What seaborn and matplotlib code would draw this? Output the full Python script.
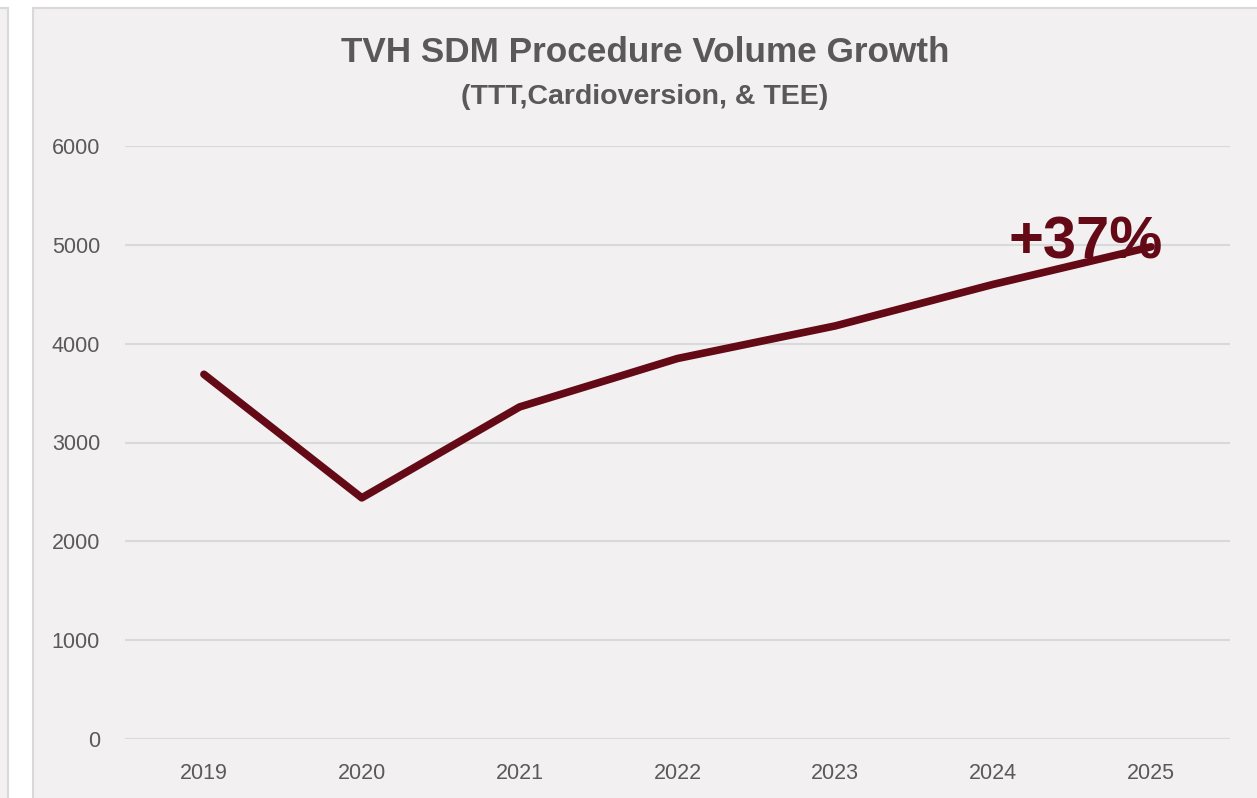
import pandas as pd
import matplotlib.pyplot as plt
import seaborn as sns
from matplotlib.patches import Rectangle

# Data
years = ["2019", "2020", "2021", "2022", "2023", "2024", "2025"]
volumes = [3690, 2440, 3360, 3850, 4180, 4600, 4980]
growth_label = "+37%"

df = pd.DataFrame({"Year": years, "Volume": volumes})

sns.set_theme(style="white")
plt.rcParams["font.family"] = ["Liberation Sans", "DejaVu Sans"]

text_gray = "#595959"
grid_gray = "#D9D9D9"
maroon = "#640A16"
panel_bg = "#F2F0F1"

fig = plt.figure(figsize=(12.57, 7.98), dpi=100)
fig.patch.set_facecolor("white")

# chart panel background + neighbour panel edge
fig.patches.append(Rectangle((33 / 1257, -0.01), 1.0, 1 - 8 / 798 + 0.01,
                             transform=fig.transFigure, facecolor=panel_bg,
                             edgecolor=grid_gray, linewidth=1.5, zorder=-10))
fig.patches.append(Rectangle((-0.01, -0.01), 8 / 1257 + 0.01, 1 - 8 / 798 + 0.01,
                             transform=fig.transFigure, facecolor=panel_bg,
                             edgecolor=grid_gray, linewidth=1.5, zorder=-10))

ax = fig.add_axes([125 / 1257, 1 - 739 / 798, 1105 / 1257, (739 - 146) / 798])
ax.set_facecolor("none")

sns.lineplot(data=df, x="Year", y="Volume", ax=ax, color=maroon,
             linewidth=5.5, solid_capstyle="round", solid_joinstyle="round",
             zorder=3)

ax.set_xlim(-0.5, len(years) - 0.5)
ax.set_ylim(0, 6000)
ax.set_yticks(range(0, 6001, 1000))
ax.yaxis.grid(True, color=grid_gray, linewidth=1.5)
ax.xaxis.grid(False)
for s in ax.spines.values():
    s.set_visible(False)
ax.set_xlabel("")
ax.set_ylabel("")
ax.tick_params(axis="y", length=0, pad=18, labelsize=15.5, labelcolor=text_gray)
ax.tick_params(axis="x", length=0, pad=17, labelsize=15.5, labelcolor=text_gray)

ax.annotate(growth_label, xy=(len(years) - 1, volumes[-1]),
            xytext=(-47, 3), textcoords="offset points",
            ha="center", va="center", fontsize=43, fontweight="bold",
            color=maroon, zorder=4)

fig.text(645 / 1257, 1 - 53 / 798, "TVH SDM Procedure Volume Growth",
         ha="center", va="center", fontsize=25.3, fontweight="bold", color=text_gray)
fig.text(645 / 1257, 1 - 97 / 798, "(TTT,Cardioversion, & TEE)",
         ha="center", va="center", fontsize=20.5, fontweight="bold", color=text_gray)

fig.savefig("out.png", dpi=100)
